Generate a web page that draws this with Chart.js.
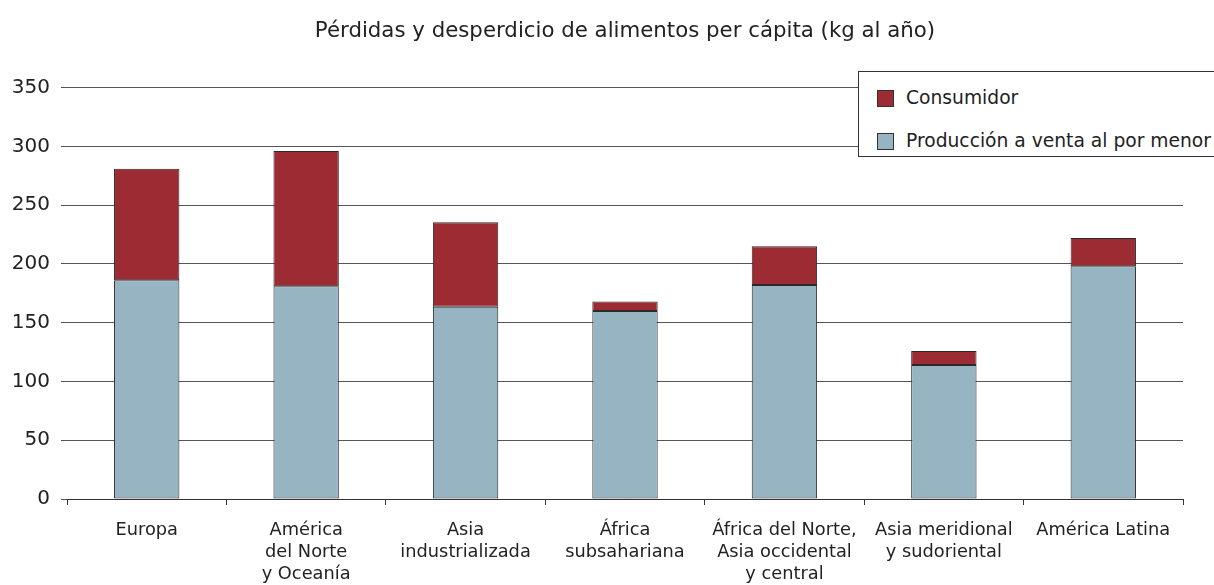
<!DOCTYPE html>
<html>
<head>
<meta charset="utf-8">
<script src="https://cdn.jsdelivr.net/npm/chart.js@4.4.1/dist/chart.umd.min.js"></script>
<style>
  html, body { margin: 0; padding: 0; background: #fff; overflow: hidden; }
  #wrap { position: relative; width: 1214px; height: 585px; }
  #legend {
    position: absolute; left: 858px; top: 71px; width: 380px; height: 86px;
    border: 1px solid #333; background: #fff; box-sizing: border-box;
    font-family: "DejaVu Sans", sans-serif; font-size: 18.7px; color: #222;
  }
  #legend div { position: absolute; left: 18px; height: 20px; line-height: 20px; white-space: nowrap; }
  #legend span { display: inline-block; width: 15px; height: 15px; border: 1px solid #333; vertical-align: -3px; margin-right: 12px; }
</style>
</head>
<body>
<div id="wrap">
  <canvas id="myChart" width="1214" height="585"></canvas>
  <div id="legend"></div>
</div>
<script>
var labels = [
    "Europa",
    ["América", "del Norte", "y Oceanía"],
    ["Asia", "industrializada"],
    ["África", "subsahariana"],
    ["África del Norte,", "Asia occidental", "y central"],
    ["Asia meridional", "y sudoriental"],
    "América Latina"
];
var produccion = [186, 181, 163.5, 160, 182, 114, 198];
var consumidor = [95, 115, 72, 8, 33, 12, 24];
var yTicks = [0, 50, 100, 150, 200, 250, 300, 350];

var ctx = document.getElementById('myChart');
Chart.defaults.font.family = '"DejaVu Sans", sans-serif';
Chart.defaults.color = '#222';

var data = {
    labels: labels,
    datasets: [
        {
            label: 'Producción a venta al por menor',
            data: produccion,
            backgroundColor: '#97b4c2',
            borderColor: '#2a2a2a',
            borderWidth: 1,
            borderSkipped: false,
            barPercentage: 0.41,
            categoryPercentage: 1
        },
        {
            label: 'Consumidor',
            data: consumidor,
            backgroundColor: '#9c2b33',
            borderColor: '#2a2a2a',
            borderWidth: 1,
            borderSkipped: false,
            barPercentage: 0.41,
            categoryPercentage: 1
        }
    ]
};

var myChart = new Chart(ctx, {
    type: 'bar',
    data: data,
    options: {
        responsive: false,
        animation: false,
        layout: { padding: { left: 0, right: 31, top: 0, bottom: 0 } },
        plugins: {
            title: {
                display: true,
                fullSize: false, // centred over the plot area, not the canvas
                text: 'Pérdidas y desperdicio de alimentos per cápita (kg al año)',
                color: '#222',
                font: { size: 21.3, weight: 'normal' },
                padding: { top: 19, bottom: 43 }
            },
            legend: { display: false },
            tooltip: { enabled: false }
        },
        scales: {
            x: {
                stacked: true,
                afterFit: function (s) { s.height = 86; },
                grid: { drawOnChartArea: false, drawTicks: true, tickLength: 6, color: '#333', offset: true },
                border: { display: true, color: '#333' },
                ticks: { font: { size: 17.8, lineHeight: 1.236 }, color: '#222', padding: 14, maxRotation: 0, autoSkip: false }
            },
            y: {
                stacked: true,
                min: 0,
                max: 350,
                afterFit: function (s) { s.width = 67; },
                afterBuildTicks: function (s) { s.ticks = yTicks.map(function (v) { return { value: v }; }); },
                grid: { color: '#555', tickLength: 6 },
                border: { display: false },
                ticks: { font: { size: 20 }, color: '#222', padding: 11 }
            }
        }
    }
});

// legend box, Consumidor first like the original
var legendEl = document.getElementById('legend');
[1, 0].forEach(function (i, row) {
    var ds = data.datasets[i];
    var item = document.createElement('div');
    item.style.top = (16 + row * 43) + 'px';
    item.innerHTML = '<span style="background:' + ds.backgroundColor + '"></span>' + ds.label;
    legendEl.appendChild(item);
});
</script>
</body>
</html>
